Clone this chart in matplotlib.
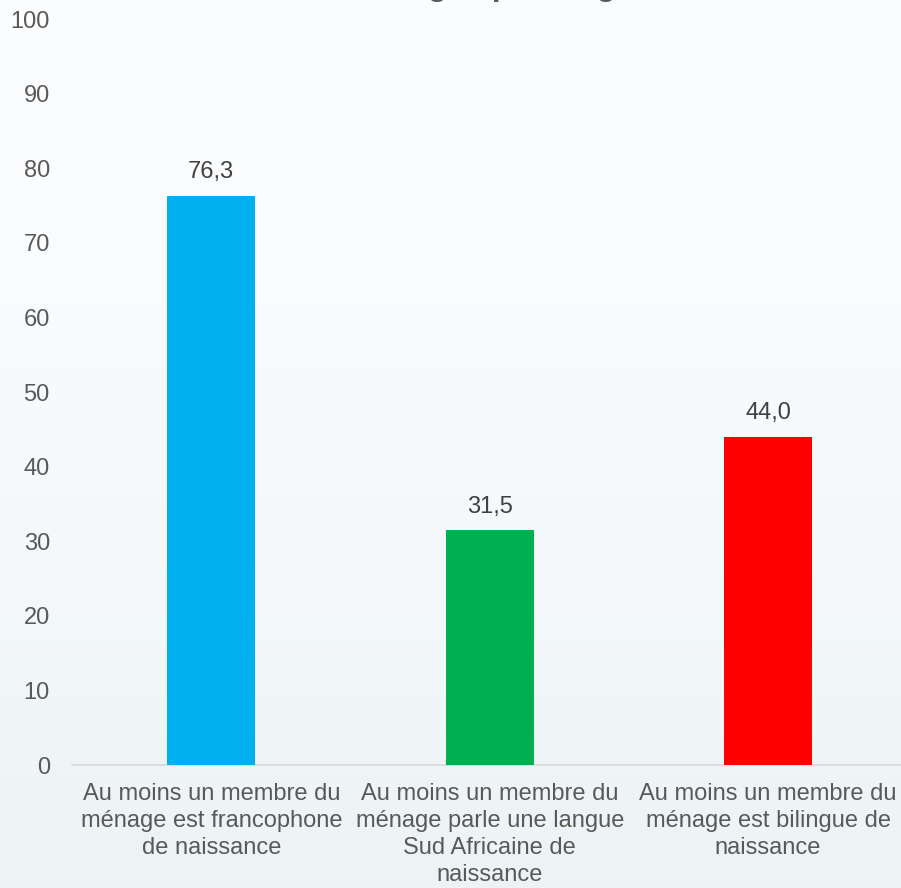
import numpy as np
import matplotlib.pyplot as plt

categories = [
    "Au moins un membre du\nménage est francophone\nde naissance",
    "Au moins un membre du\nménage parle une langue\nSud Africaine de\nnaissance",
    "Au moins un membre du\nménage est bilingue de\nnaissance",
]
values = [76.3, 31.5, 44.0]
bar_colors = ["#00B0F0", "#00B050", "#FF0000"]
yticks = [0, 10, 20, 30, 40, 50, 60, 70, 80, 90, 100]

plt.rcParams["font.family"] = ["Liberation Sans", "DejaVu Sans"]
text_color = "#595959"

fig = plt.figure(figsize=(9.01, 8.88), dpi=100)

# background gradient (white at top -> pale blue-grey at bottom)
bg = fig.add_axes([0, 0, 1, 1], zorder=-10)
grad = np.linspace(0, 1, 256).reshape(-1, 1)
top = np.array([0.988, 0.992, 1.0])
bot = np.array([0.925, 0.953, 0.961])
img = top + (bot - top) * grad[:, :, None] ** 1.6
bg.imshow(img, aspect="auto", extent=[0, 1, 0, 1])
bg.axis("off")

ax = fig.add_axes([0.080, 0.1385, 0.927, 0.840])
ax.patch.set_alpha(0)

x = np.arange(len(values))
ax.bar(x, values, width=0.316, color=bar_colors, zorder=3)

for xi, v in zip(x, values):
    ax.annotate(f"{v:.1f}".replace(".", ","), (xi, v), xytext=(0, 9),
                textcoords="offset points", ha="center", va="bottom",
                fontsize=17, color="#404040")

ax.set_xlim(-0.5, 2.5)
ax.set_ylim(0, 100)
ax.set_yticks(yticks)
ax.set_yticklabels([str(t) for t in yticks], fontsize=17, color=text_color)
ax.set_xticks(x)
ax.set_xticklabels(categories, fontsize=17, color=text_color, linespacing=1.3)
ax.tick_params(axis="both", length=0)
ax.tick_params(axis="y", pad=16)
ax.tick_params(axis="x", pad=13)

for side in ["top", "right", "left"]:
    ax.spines[side].set_visible(False)
ax.spines["bottom"].set_color("#D9D9D9")
ax.spines["bottom"].set_linewidth(1.2)

# title: in the reference only its descenders show at the top edge
fig.text(346 / 901, 1 + 5 / 888, "Ménages par langue de naissance", ha="left",
         va="baseline", fontsize=23, fontweight="bold", color=text_color)

fig.savefig("out.png", dpi=100)
